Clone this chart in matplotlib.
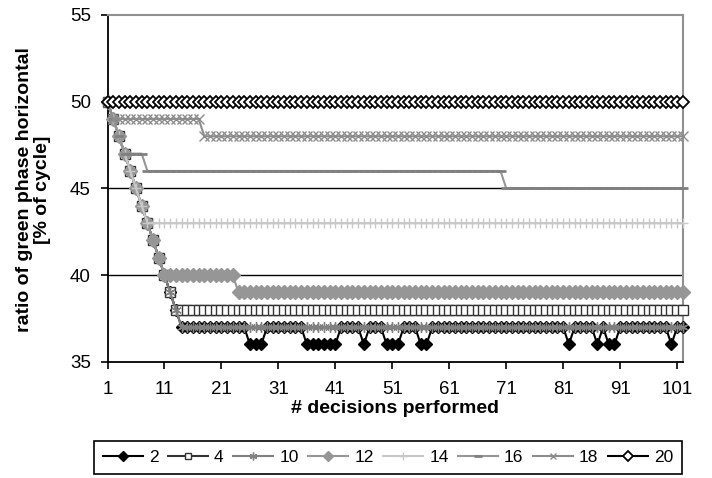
import numpy as np
import matplotlib
matplotlib.use("Agg")
import matplotlib.pyplot as plt

plt.rcParams["font.family"] = ["Liberation Sans", "DejaVu Sans"]

# decision index (categories on the x axis)
decisions = np.arange(1, 103)

# each series written as step levels and how many decisions each level lasts
s2_levels = [50, 49, 48, 47, 46, 45, 44, 43, 42, 41, 40, 39, 38,
             37, 36, 37, 36, 37, 36, 37, 36, 37, 36, 37, 36, 37, 36, 37, 36, 37, 36, 37]
s2_runs = [1, 1, 1, 1, 1, 1, 1, 1, 1, 1, 1, 1, 1,
           12, 3, 7, 6, 4, 1, 3, 3, 3, 2, 24, 1, 4, 1, 1, 2, 9, 1, 2]

s4_levels = [50, 49, 48, 47, 46, 45, 44, 43, 42, 41, 40, 39, 38]
s4_runs = [1, 1, 1, 1, 1, 1, 1, 1, 1, 1, 1, 1, 90]

s10_levels = [50, 49, 48, 47, 46, 45, 44, 43, 42, 41, 40, 39, 38, 37]
s10_runs = [1, 1, 1, 1, 1, 1, 1, 1, 1, 1, 1, 1, 1, 89]

s12_levels = [50, 49, 48, 47, 46, 45, 44, 43, 42, 41, 40, 39]
s12_runs = [1, 1, 1, 1, 1, 1, 1, 1, 1, 1, 13, 79]

s14_levels = [50, 49, 48, 47, 46, 45, 44, 43]
s14_runs = [1, 1, 1, 1, 1, 1, 1, 95]

s16_levels = [50, 49, 48, 47, 46, 45]
s16_runs = [1, 1, 1, 4, 63, 32]

s18_levels = [50, 49, 48]
s18_runs = [1, 16, 85]

s20_levels = [50]
s20_runs = [102]

names = ["2", "4", "10", "12", "14", "16", "18", "20"]


def steps(levels, runs):
    return np.repeat(levels, runs)


series = [
    (steps(s2_levels, s2_runs), dict(color="black", marker="D", mfc="black", mec="black", ms=6.5)),
    (steps(s4_levels, s4_runs), dict(color="#333333", marker="s", mfc="white", mec="#333333", ms=6.5)),
    (steps(s10_levels, s10_runs), dict(color="#808080", marker=(6, 2, 0), mfc="#808080", mec="#808080", ms=7.5)),
    (steps(s12_levels, s12_runs), dict(color="#969696", marker="D", mfc="#969696", mec="#969696", ms=7)),
    (steps(s14_levels, s14_runs), dict(color="#c8c8c8", marker="+", mfc="#c8c8c8", mec="#c8c8c8", ms=7.5)),
    (steps(s16_levels, s16_runs), dict(color="#969696", marker="_", mfc="#808080", mec="#808080", ms=7, mew=2)),
    (steps(s18_levels, s18_runs), dict(color="#8c8c8c", marker="x", mfc="#8c8c8c", mec="#8c8c8c", ms=6.5)),
    (steps(s20_levels, s20_runs), dict(color="black", marker="D", mfc="white", mec="black", ms=6.5, mew=1.3)),
]

fig = plt.figure(figsize=(7.12, 4.78), dpi=100)
ax = fig.add_axes([0.151, 0.243, 0.808, 0.726])

for yv in [40, 45, 50]:
    ax.axhline(yv, color="black", lw=1.0, zorder=1)

handles = []
for (vals, style), name in zip(series, names):
    ln, = ax.plot(decisions, vals, lw=1.5, clip_on=False, zorder=3, label=name, **style)
    handles.append(ln)

ax.set_xlim(1, 102)
ax.set_ylim(35, 55)
ax.set_xticks(np.arange(1, 102, 10))
ax.set_yticks([35, 40, 45, 50, 55])
ax.tick_params(axis="both", direction="out", length=5, width=1.2, labelsize=13.5, colors="black")
ax.tick_params(axis="y", pad=7)
ax.tick_params(axis="x", pad=9)

for side in ["left", "bottom"]:
    ax.spines[side].set_color("black")
    ax.spines[side].set_linewidth(1.3)
for side in ["top", "right"]:
    ax.spines[side].set_color("#909090")
    ax.spines[side].set_linewidth(1.5)

fig.text(0.555, 0.146, "# decisions performed", ha="center", va="center",
         fontsize=14, fontweight="bold")
fig.text(0.047, 0.603, "ratio of green phase horizontal\n[% of cycle]", ha="center", va="center",
         rotation=90, fontsize=14, fontweight="bold", linespacing=1.05)

leg = fig.legend(handles=handles, loc="lower center", bbox_to_anchor=(0.545, 0.002), ncol=8,
                 frameon=True, fancybox=False, edgecolor="black", framealpha=1,
                 fontsize=12.5, handlelength=2.3, handletextpad=0.35, columnspacing=0.55,
                 borderpad=0.5, borderaxespad=0.2, markerscale=0.75)
leg.get_frame().set_linewidth(1.2)

fig.savefig("out.png", dpi=100)
